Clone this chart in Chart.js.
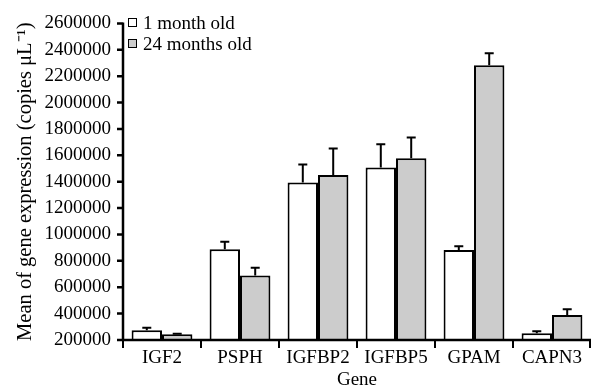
<!DOCTYPE html>
<html>
<head>
<meta charset="utf-8">
<script src="https://cdn.jsdelivr.net/npm/chart.js@4/dist/chart.umd.min.js"></script>
<style>
  html, body { margin:0; padding:0; background:#fff; }
  #wrap { position:relative; width:592px; height:391px; }
  #legend { position:absolute; left:128px; top:12px; font-family:"Liberation Serif","Times New Roman",serif; font-size:19px; color:#000; line-height:21px; }
  #legend .row { display:flex; align-items:center; white-space:nowrap; }
  #legend .box { width:7px; height:7px; border:1.5px solid #000; margin-right:6px; }
</style>
</head>
<body>
<div id="wrap">
  <canvas id="c" width="592" height="391"></canvas>
  <div id="legend"></div>
</div>
<script>
const categories = ["IGF2", "PSPH", "IGFBP2", "IGFBP5", "GPAM", "CAPN3"];
const seriesNames = ["1 month old", "24 months old"];
const month1 = [273000, 888000, 1393000, 1508000, 883000, 251000];
const month1Err = [20000, 56000, 137000, 175000, 27000, 15000];
const month24 = [243000, 688000, 1451000, 1578000, 2283000, 390000];
const month24Err = [5000, 59000, 200000, 157000, 90000, 44000];
const yTicks = [200000, 400000, 600000, 800000, 1000000, 1200000, 1400000, 1600000, 1800000, 2000000, 2200000, 2400000, 2600000];
const colors = ["#ffffff", "#cccccc"];

const errors = [month1Err, month24Err];
const FONT = "'Liberation Serif', 'Times New Roman', serif";

// legend
const leg = document.getElementById('legend');
seriesNames.forEach((n, i) => {
  const r = document.createElement('div'); r.className = 'row';
  const b = document.createElement('span'); b.className = 'box'; b.style.background = colors[i];
  const t = document.createElement('span'); t.textContent = n;
  r.appendChild(b); r.appendChild(t); leg.appendChild(r);
});

const errorBars = {
  id: 'errorBars',
  afterDatasetsDraw(chart) {
    const ctx = chart.ctx;
    const ys = chart.scales.y;
    const xs = chart.scales.x;
    const area = chart.chartArea;
    ctx.save();
    ctx.strokeStyle = '#000';
    ctx.lineWidth = 2;
    chart.data.datasets.forEach((ds, di) => {
      const meta = chart.getDatasetMeta(di);
      meta.data.forEach((el, i) => {
        const v = ds.data[i];
        const e = errors[di][i];
        const yTop = ys.getPixelForValue(v + e);
        ctx.beginPath();
        ctx.moveTo(el.x, el.y);
        ctx.lineTo(el.x, yTop);
        ctx.moveTo(el.x - 4.5, yTop);
        ctx.lineTo(el.x + 4.5, yTop);
        ctx.stroke();
      });
    });
    // axes
    ctx.lineWidth = 2.5;
    ctx.lineCap = 'butt';
    const yTopAxis = ys.getPixelForValue(yTicks[yTicks.length - 1]);
    const yBot = ys.getPixelForValue(yTicks[0]);
    ctx.beginPath();
    ctx.moveTo(area.left, yTopAxis - 1);
    ctx.lineTo(area.left, yBot + 1);
    yTicks.forEach(v => {
      const p = ys.getPixelForValue(v);
      ctx.moveTo(area.left - 6, p);
      ctx.lineTo(area.left, p);
    });
    ctx.moveTo(area.left - 1, yBot);
    ctx.lineTo(area.right, yBot);
    ctx.stroke();
    ctx.lineWidth = 2;
    ctx.beginPath();
    for (let i = 0; i <= categories.length; i++) {
      let p = xs.getPixelForValue(i - 0.5);
      if (i === categories.length) p -= 1;
      ctx.moveTo(p, yBot);
      ctx.lineTo(p, yBot + 8);
    }
    ctx.stroke();
    ctx.restore();
  }
};

new Chart(document.getElementById('c'), {
  type: 'bar',
  data: {
    labels: categories,
    datasets: [
      { label: seriesNames[0], data: month1, backgroundColor: colors[0], borderColor: '#000', borderWidth: 2, borderSkipped: 'start' },
      { label: seriesNames[1], data: month24, backgroundColor: colors[1], borderColor: '#000', borderWidth: 2, borderSkipped: 'start' }
    ]
  },
  options: {
    responsive: false,
    animation: false,
    devicePixelRatio: 1,
    layout: { padding: { left: 0, top: 12, right: 1, bottom: 0 } },
    datasets: { bar: { categoryPercentage: 0.78, barPercentage: 1.0 } },
    plugins: { legend: { display: false }, tooltip: { enabled: false } },
    scales: {
      x: {
        offset: true,
        grid: { display: false, drawTicks: false, tickLength: 0 },
        border: { display: false },
        ticks: { color: '#000', font: { family: FONT, size: 19 }, padding: 7, maxRotation: 0, minRotation: 0, autoSkip: false },
        title: { display: true, text: 'Gene', color: '#000', font: { family: FONT, size: 19 }, padding: { top: 0, bottom: 0 } },
        afterFit: (s) => { s.height = 51; }
      },
      y: {
        min: 200000,
        max: 2600000,
        afterBuildTicks: (s) => { s.ticks = yTicks.map(v => ({ value: v })); },
        grid: { display: false, drawTicks: false, tickLength: 0 },
        border: { display: false },
        ticks: { color: '#000', font: { family: FONT, size: 19 }, padding: 12, callback: (v) => String(v) },
        title: { display: true, text: 'Mean of gene expression (copies μL⁻¹)', color: '#000', font: { family: FONT, size: 20.5 }, padding: { top: 13, bottom: 4 } },
        afterFit: (s) => { s.width = 123; }
      }
    }
  },
  plugins: [errorBars]
});
</script>
</body>
</html>
